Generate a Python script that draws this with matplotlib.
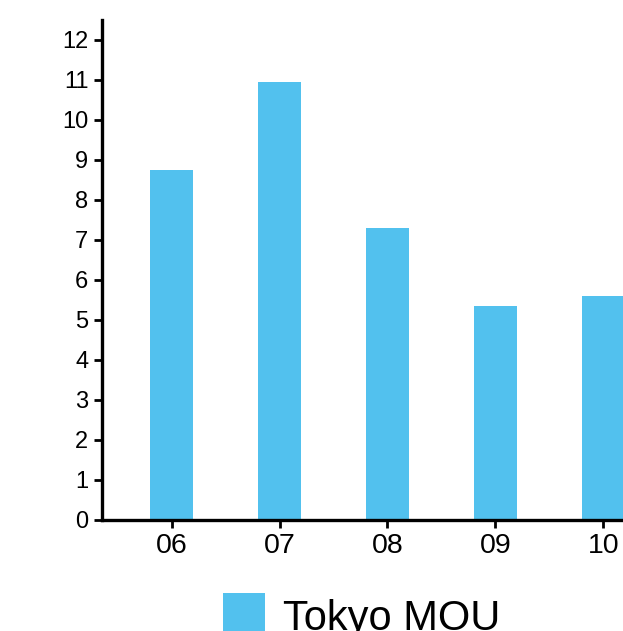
import matplotlib
matplotlib.use("Agg")
import matplotlib.pyplot as plt

# valores por ano
anos = ["06", "07", "08", "09", "10"]
valores = [8.75, 10.94, 7.3, 5.34, 5.6]
serie = "Tokyo MOU"
cor = "#52C1EE"

plt.rcParams["font.family"] = ["Liberation Sans", "DejaVu Sans"]

fig = plt.figure(figsize=(6.23, 6.31), dpi=100)
W, H = 623, 631
esq, base, topo, dir_ = 101.5, 519.5, 20, 668
ax = fig.add_axes([esq / W, (H - base) / H, (dir_ - esq) / W, (base - topo) / H])

x = list(range(len(anos)))
ax.bar(x, valores, width=0.4, color=cor, label=serie, zorder=2)

ax.set_xlim(-0.65, 4.6)
ax.set_ylim(0, 12.5)
ax.set_yticks(range(0, 13))
ax.set_xticks(x)
ax.set_xticklabels(anos)

for s in ["top", "right"]:
    ax.spines[s].set_visible(False)
for s in ["left", "bottom"]:
    ax.spines[s].set_linewidth(2.4)
ax.tick_params(axis="both", width=2, length=5.8)
ax.tick_params(axis="y", labelsize=17, pad=3.6)
ax.tick_params(axis="x", labelsize=20.5, pad=4)

fig.legend(loc="upper left", bbox_to_anchor=(223 / W, 1 - 593 / H), frameon=False,
           fontsize=30, handlelength=1.0, handleheight=1.3, handletextpad=0.45,
           borderpad=0, borderaxespad=0)

fig.savefig("out.png", dpi=100)
